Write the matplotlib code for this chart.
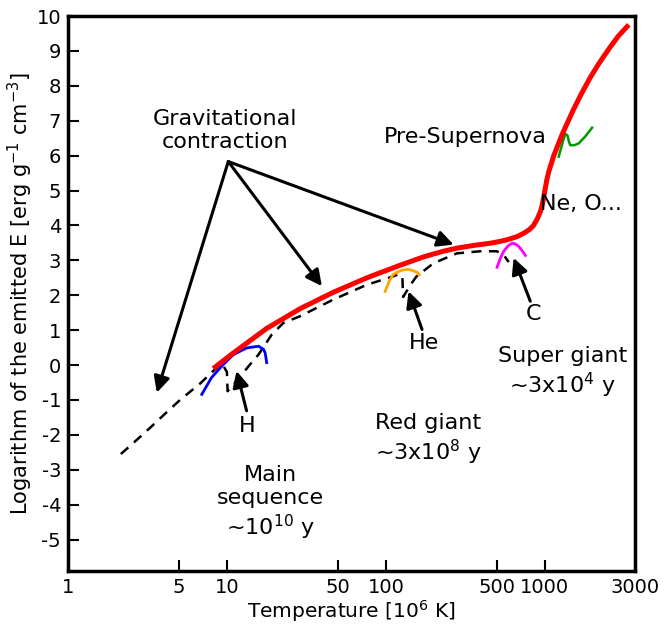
import numpy as np
import matplotlib
matplotlib.use('Agg')
import matplotlib.pyplot as plt

plt.rcParams['axes.unicode_minus'] = False

# red: overall track
red_x = [8.2, 11, 17.8, 29, 47, 76, 123, 173, 230, 280, 360, 454, 520, 580, 670, 740,
         800, 850, 900, 940, 960, 980, 1000, 1030, 1060, 1140, 1290, 1520, 1700, 1940,
         2200, 2590, 2900, 3380]
red_y = [-0.1, 0.35, 1.05, 1.62, 2.09, 2.5, 2.86, 3.1, 3.26, 3.35, 3.43, 3.49, 3.54, 3.59, 3.68, 3.78,
         3.88, 4.0, 4.2, 4.4, 4.55, 4.75, 4.98, 5.3, 5.54, 6.0, 6.62, 7.33, 7.77, 8.25,
         8.65, 9.12, 9.42, 9.75]

# dashed: contraction line with dips at ignition
dash_x = [2.15, 2.58, 3.28, 4.18, 5.07, 6.78, 8.2, 9.3, 10.0, 10.1, 11.8, 13.7, 15.8, 19.2, 22.7,
          28.9, 46.9, 76, 111, 120, 127, 128.5, 143, 156, 200, 280, 393, 500, 551, 593]
dash_y = [-2.55, -2.23, -1.8, -1.35, -1.0, -0.53, -0.17, 0.05, -0.2, -0.75, -0.4, -0.03, 0.3, 0.88, 1.21,
          1.4, 1.88, 2.3, 2.54, 2.6, 2.55, 1.95, 2.3, 2.54, 2.92, 3.2, 3.26, 3.26, 3.16, 2.95]

# burning phases
h_x = [6.95, 8.0, 9.5, 11, 13.3, 15.8, 17.0, 17.4, 17.8]
h_y = [-0.84, -0.36, 0.02, 0.3, 0.49, 0.54, 0.45, 0.35, 0.07]
he_x = [99, 105, 111, 120, 129, 140, 149, 157, 162.6]
he_y = [2.11, 2.4, 2.59, 2.68, 2.73, 2.74, 2.7, 2.66, 2.59]
c_x = [501, 525, 551, 590, 622, 655, 685, 720, 755]
c_y = [2.8, 3.05, 3.26, 3.42, 3.49, 3.47, 3.4, 3.28, 3.14]
ne_x = [1224, 1300, 1349, 1390, 1420, 1448, 1540, 1636, 1800, 1986]
ne_y = [5.97, 6.4, 6.62, 6.58, 6.4, 6.3, 6.3, 6.35, 6.55, 6.8]

xtick_pos = [1, 5, 10, 50, 100, 500, 1000, 3700]
xtick_labels = ['1', '5', '10', '50', '100', '500', '1000', '3000']
ytick_pos = list(range(-5, 11))

fig = plt.figure(figsize=(6.66, 6.25), dpi=100)
ax = fig.add_axes([0.1021, 0.0864, 0.8514, 0.888])

ax.plot(dash_x, dash_y, color='black', lw=1.8, dashes=(4, 3), zorder=1)
ax.plot(h_x, h_y, color='blue', lw=2.0, zorder=2)
ax.plot(he_x, he_y, color='orange', lw=2.0, zorder=2)
ax.plot(c_x, c_y, color='magenta', lw=2.0, zorder=2)
ax.plot(ne_x, ne_y, color='#009900', lw=1.8, zorder=2)
ax.plot(red_x, red_y, color='red', lw=3.6, zorder=3, solid_capstyle='butt', solid_joinstyle='round')

ax.set_xscale('log')
ax.set_xlim(1, 3700)
ax.set_ylim(-5.9, 10)
ax.set_xticks(xtick_pos)
ax.set_xticklabels(xtick_labels)
ax.xaxis.set_minor_locator(matplotlib.ticker.NullLocator())
ax.set_yticks(ytick_pos)
ax.tick_params(direction='in', length=8, width=1.5, labelsize=14, pad=5)

for s in ax.spines.values():
    s.set_linewidth(2.5)

ax.set_xlabel('Temperature [10$^6$ K]', fontsize=14.5, labelpad=1)
ax.set_ylabel('Logarithm of the emitted E [erg g$^{-1}$ cm$^{-3}$]', fontsize=15, labelpad=1)

# arrows
arrow = dict(arrowstyle='-|>', color='black', lw=2.2, mutation_scale=24, shrinkA=0, shrinkB=0)
origin = (10.2, 5.83)
for tip in [(3.62, -0.79), (39.6, 2.26), (267, 3.45)]:
    ax.annotate('', xy=tip, xytext=origin, arrowprops=arrow)
ax.annotate('', xy=(11.5, -0.17), xytext=(13.3, -1.31), arrowprops=arrow)
ax.annotate('', xy=(139, 2.11), xytext=(169, 1.02), arrowprops=arrow)
ax.annotate('', xy=(637, 3.07), xytext=(811, 1.83), arrowprops=arrow)

fs = 16
ax.text(9.74, 6.71, 'Gravitational\ncontraction', fontsize=fs, ha='center', va='center')
ax.text(316, 6.54, 'Pre-Supernova', fontsize=fs, ha='center', va='center')
ax.text(938, 4.6, 'Ne, O...', fontsize=fs, ha='left', va='center')
ax.text(848, 1.46, 'C', fontsize=fs, ha='center', va='center')
ax.text(174.5, 0.63, 'He', fontsize=fs, ha='center', va='center')
ax.text(13.4, -1.74, 'H', fontsize=fs, ha='center', va='center')
ax.text(1291, -0.23, 'Super giant\n~3x10$^4$ y', fontsize=fs, ha='center', va='center')
ax.text(185, -2.14, 'Red giant\n~3x10$^8$ y', fontsize=fs, ha='center', va='center')
ax.text(18.7, -3.97, 'Main\nsequence\n~10$^{10}$ y', fontsize=fs, ha='center', va='center')

fig.savefig('out.png', dpi=100)
